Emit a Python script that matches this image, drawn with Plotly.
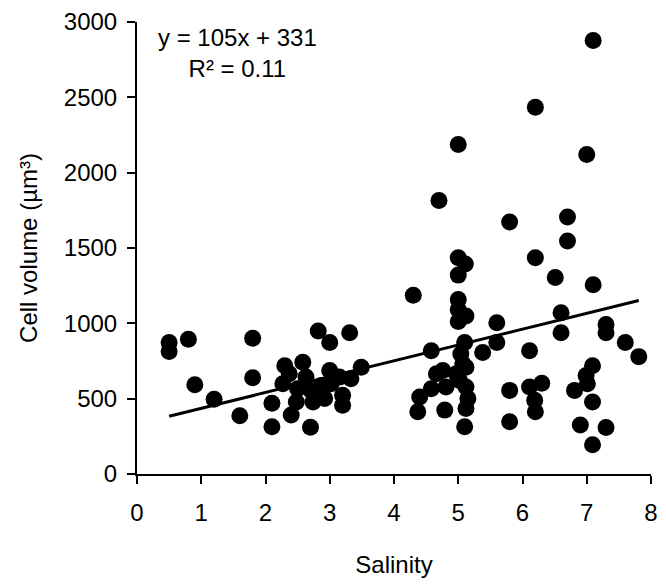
import plotly.graph_objects as go

salinity = [0.5, 0.5, 0.8, 0.9, 1.2, 1.6, 1.8, 1.8, 2.1, 2.1,
            2.27, 2.3, 2.37, 2.4, 2.48, 2.5, 2.58, 2.63, 2.7, 2.71,
            2.74, 2.82, 2.87, 2.92, 3.0, 3.0, 3.02, 3.15, 3.2, 3.2,
            3.31, 3.33, 3.49, 4.3, 4.37, 4.4, 4.58, 4.58, 4.66, 4.7,
            4.76, 4.79, 4.81, 4.97, 5.0, 5.0, 5.0, 5.0, 5.0, 5.0,
            5.12, 5.11, 5.1, 5.04, 5.07, 5.12, 5.02, 5.12, 5.15, 5.12,
            5.1, 5.38, 5.6, 5.6, 5.8, 5.8, 5.8, 6.11, 6.11, 6.19,
            6.2, 6.2, 6.2, 6.3, 6.51, 6.6, 6.6, 6.7, 6.7, 6.81,
            6.9, 6.99, 7.0, 7.01, 7.09, 7.09, 7.09, 7.1, 7.1, 7.3,
            7.3, 7.3, 7.6, 7.81]
cell_volume = [872, 813, 895, 593, 496, 386, 901, 639, 314, 470,
               599, 719, 665, 391, 478, 566, 741, 643, 310, 555,
               478, 949, 588, 501, 873, 687, 599, 643, 522, 457,
               938, 632, 708, 1186, 413, 511, 818, 566, 665, 1815,
               687, 424, 577, 665, 2187, 1436, 1320, 1158, 1092, 1012,
               1048, 1394, 873, 796, 731, 708, 621, 577, 501, 435,
               314, 807, 1004, 873, 1672, 555, 347, 818, 577, 489,
               413, 2434, 1436, 603, 1304, 1070, 938, 1705, 1547, 555,
               325, 654, 2121, 599, 719, 478, 194, 2877, 1256, 993,
               938, 308, 873, 779]

slope = 105
intercept = 331
r_squared = 0.11
x_ticks = [0, 1, 2, 3, 4, 5, 6, 7, 8]
y_ticks = [0, 500, 1000, 1500, 2000, 2500, 3000]

x_fit = [min(salinity), max(salinity)]
y_fit = [slope * x + intercept for x in x_fit]

FONT = "Liberation Sans, Arial, sans-serif"

fig = go.Figure()
fig.add_trace(go.Scatter(
    x=salinity, y=cell_volume, mode="markers",
    marker=dict(color="black", size=17, line=dict(width=0)),
    showlegend=False, cliponaxis=False,
))
fig.add_trace(go.Scatter(
    x=x_fit, y=y_fit, mode="lines",
    line=dict(color="black", width=3),
    showlegend=False,
))

axis_common = dict(
    showline=True, linecolor="black", linewidth=2,
    ticks="outside", ticklen=8, tickwidth=2, tickcolor="black",
    showgrid=False, zeroline=False, mirror=False, automargin=False,
    ticklabeloverflow="allow",
    tickfont=dict(family=FONT, size=24, color="black"),
)

# the page body adds an 8px offset, so the figure is sized to the remaining viewport
fig.update_layout(
    width=658, height=580,
    margin=dict(l=129, r=15, t=14, b=114),
    paper_bgcolor="white", plot_bgcolor="white",
    font=dict(family=FONT, size=24, color="black"),
    xaxis=dict(
        range=[0, 8], tickvals=x_ticks, ticktext=[str(v) for v in x_ticks],
        title=dict(text="Salinity", font=dict(family=FONT, size=24), standoff=31),
        ticklabelstandoff=8,
        **axis_common,
    ),
    yaxis=dict(
        range=[0, 3000], tickvals=y_ticks, ticktext=[str(v) for v in y_ticks],
        title=dict(text="Cell volume (µm³)", font=dict(family=FONT, size=24), standoff=19),
        ticklabelstandoff=5,
        **axis_common,
    ),
    annotations=[dict(
        x=0.1946, y=1.0, xref="paper", yref="paper",
        xanchor="center", yanchor="top", align="center", showarrow=False,
        text=f"y = {slope}x + {intercept}<br>R² = {r_squared:.2f}",
        font=dict(family=FONT, size=24, color="black"),
    )],
)

fig.write_html("out.html")
